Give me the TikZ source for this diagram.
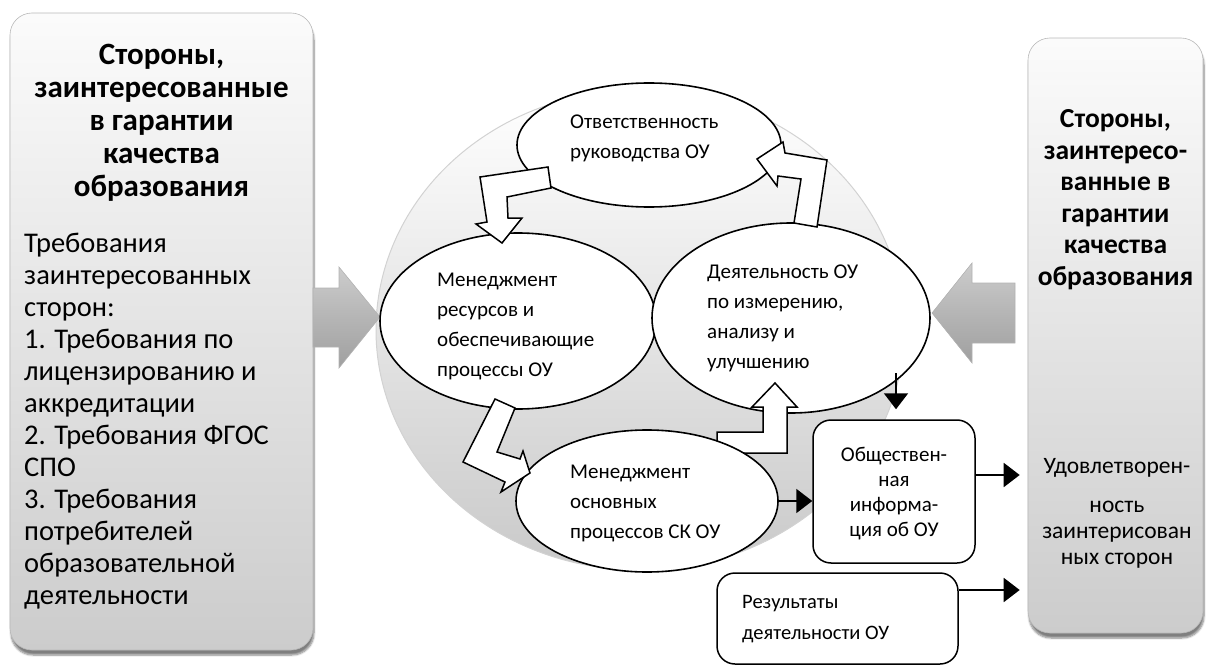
\documentclass[tikz,border=0pt]{standalone}
\usepackage{fontspec}
\setmainfont{Carlito}
\usetikzlibrary{shapes.geometric,arrows.meta,shadows.blur}
\begin{document}
\begin{tikzpicture}[x=1pt,y=-1pt,
  panel/.style={draw=gray!55, line width=0.6pt, rounded corners=22pt, top color=gray!3, bottom color=gray!40,
     blur shadow={shadow blur steps=6, shadow xshift=1pt, shadow yshift=-5pt, shadow opacity=50}},
  ell/.style={draw=black, line width=1.6pt, fill=white, ellipse, inner sep=0pt},
  hollow/.style={draw=black, line width=1.5pt, fill=white, line join=miter},
  rbox/.style={draw=black, line width=1.5pt, fill=white, rounded corners=18pt, inner sep=0pt},
  conn/.style={line width=2pt, -{Triangle[length=16pt,width=24pt]}},
  grayarrow/.style={draw=gray!60, line width=0.6pt, top color=gray!40, bottom color=gray!75, middle color=gray!58},
  etext/.style={font=\fontsize{21}{30}\selectfont, align=left, inner sep=0pt, anchor=west},
]
\useasboundingbox (0,0) rectangle (1208,666);

% side panels
\node[panel, minimum width=303pt, minimum height=637pt] (lp) at (161.5,331.5) {};
\node[panel, minimum width=175pt, minimum height=595pt] (rp) at (1115.5,335.5) {};

\node[font=\fontsize{31}{33}\selectfont\bfseries, align=center, inner sep=0pt] (lpt) at (161.5,122.5)
  {Стороны,\\заинтересованные\\в гарантии\\качества\\образования};
\node[font=\fontsize{28.5}{32}\selectfont, align=left, inner sep=0pt, anchor=west] (lpb) at (24,421)
  {Требования\\заинтересованных\\сторон:\\1. Требования по\\лицензированию и\\аккредитации\\2. Требования ФГОС\\СПО\\3. Требования\\потребителей\\образовательной\\деятельности};

\node[font=\fontsize{27.5}{31.5}\selectfont\bfseries, align=center, inner sep=0pt] (rpt) at (1115.5,199.5)
  {Стороны,\\заинтересо-\\ванные в\\гарантии\\качества\\образования};
\node[font=\fontsize{23.5}{26}\selectfont, align=center, inner sep=0pt] (rpb) at (1117,513)
  {Удовлетворен-\\[13pt]ность\\заинтерисован\\ных сторон};

% big sphere
\node[ellipse, minimum width=528pt, minimum height=480pt, draw=gray!35, line width=1pt,
      top color=white, bottom color=gray!42, inner sep=0pt] (ring) at (640,330) {};

% gray block arrows
\draw[grayarrow] (313,288) -- (339,288) -- (339,267) -- (380,317) -- (339,368) -- (339,347) -- (313,347) -- cycle;
\draw[grayarrow] (1015,283) -- (972,283) -- (972,263) -- (932,313) -- (972,363) -- (972,343) -- (1015,343) -- cycle;

% ellipses
\node[ell, minimum width=264pt, minimum height=124pt] (e1) at (649,145) {};
\node[ell, minimum width=276pt, minimum height=176pt] (e2) at (518,321) {};
\node[ell, minimum width=278pt, minimum height=190pt] (e3) at (791,318) {};

% hollow cycle arrows
\draw[hollow] (480,177) -- (548,167) -- (551,188) -- (507,197) -- (508,218) -- (522,218) -- (502,243) -- (476,224) -- (487,222) -- cycle;
\draw[hollow] (794,223) -- (817,227) -- (827,160) -- (785,153) -- (783,142) -- (757,159) -- (777,186) -- (778,176) -- (801,179) -- cycle;
\draw[hollow] (717,432) -- (763,432) -- (763,407) -- (752,407) -- (775,383) -- (797,407) -- (787,407) -- (787,453) -- (717,453) -- cycle;

\node[ell, minimum width=262pt, minimum height=142pt] (e4) at (647,501) {};
\draw[hollow] (495,399) -- (515,408) -- (497,452) -- (520,459) -- (523,451) -- (530,473) -- (501,492) -- (505,482) -- (463,462) -- cycle;

\node[etext] (e1t) at (570,138) {Ответственность\\руководства ОУ};
\node[etext] (e2t) at (437,326) {Менеджмент\\ресурсов и\\обеспечивающие\\процессы ОУ};
\node[etext] (e3t) at (707,318) {Деятельность ОУ\\по измерению,\\анализу и\\улучшению};
\node[etext] (e4t) at (570,503) {Менеджмент\\основных\\процессов СК ОУ};

% boxes
\node[rbox, minimum width=162pt, minimum height=143pt] (info) at (894,491.5) {};
\node[font=\fontsize{21}{25}\selectfont, align=center, inner sep=0pt] (infot) at (894,493.5)
  {Обществен-\\ная\\информа-\\ция об ОУ};
\node[rbox, minimum width=241pt, minimum height=91pt] (res) at (837.5,618.5) {};
\node[etext, font=\fontsize{20.5}{31}\selectfont] (rest) at (742,619.5) {Результаты\\деятельности ОУ};

% connectors
\draw[conn] (e4.east) -- (e4.east -| info.west);
\coordinate (o1) at ([yshift=16.5pt]info.east);
\draw[conn, shorten >=8pt] (o1) -- (o1 -| rp.west);
\coordinate (o2) at ([yshift=28.5pt]res.east);
\draw[conn, shorten >=8pt] (o2) -- (o2 -| rp.west);
\coordinate (d0) at (896,373);
\draw[conn, shorten >=10pt] (d0) -- (d0 |- info.north);
\end{tikzpicture}
\end{document}
